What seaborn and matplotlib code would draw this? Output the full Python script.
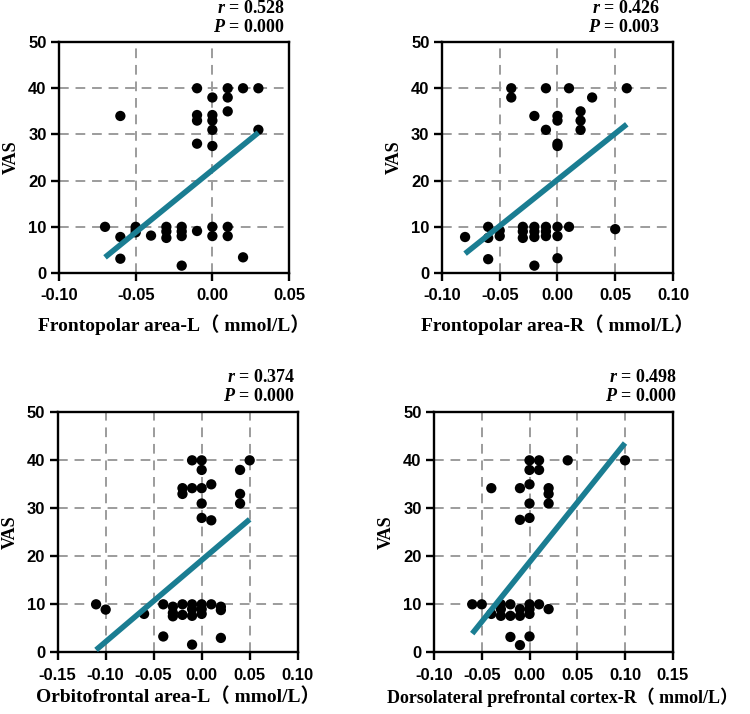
import numpy as np
import pandas as pd
import matplotlib
matplotlib.use("Agg")
import matplotlib.pyplot as plt
from matplotlib.ticker import FormatStrFormatter, MultipleLocator
import seaborn as sns

# Frontopolar area-L
fpl_x = [-0.07, -0.06, -0.06, -0.06, -0.05, -0.05, -0.05, -0.04, -0.03, -0.03, -0.03,
         -0.02, -0.02, -0.02, -0.02, -0.01, -0.01, -0.01, -0.01, -0.01,
         0, 0, 0, 0, 0, 0, 0, 0.01, 0.01, 0.01, 0.01, 0.01, 0.02, 0.02, 0.03, 0.03]
fpl_y = [10, 34, 7.8, 3.1, 10, 9.4, 8.8, 8.1, 10, 9, 7.6,
         10, 9, 8, 1.6, 40, 34.2, 33, 28, 9.1,
         38, 34.2, 33, 31, 27.5, 10, 8, 40, 38, 35, 10, 8, 40, 3.4, 40, 31]

# Frontopolar area-R
fpr_x = [-0.08, -0.06, -0.06, -0.06, -0.05, -0.05, -0.04, -0.04, -0.03, -0.03, -0.03,
         -0.02, -0.02, -0.02, -0.02, -0.02, -0.01, -0.01, -0.01, -0.01, -0.01,
         0, 0, 0, 0, 0, 0, 0, 0.01, 0.01, 0.02, 0.02, 0.02, 0.03, 0.05, 0.06]
fpr_y = [7.8, 10, 7.6, 3.0, 9.2, 8.0, 40, 38, 10, 9, 7.6,
         34, 10, 9, 7.8, 1.6, 40, 31, 10, 9, 8,
         34, 33, 28, 27.5, 10, 8, 3.2, 40, 10, 35, 33, 31, 38, 9.5, 40]

# Orbitofrontal area-L
ofl_x = [-0.11, -0.10, -0.06, -0.04, -0.04, -0.03, -0.03, -0.03,
         -0.02, -0.02, -0.02, -0.02, -0.01, -0.01, -0.01, -0.01, -0.01, -0.01,
         0, 0, 0, 0, 0, 0, 0, 0, 0.01, 0.01, 0.01, 0.02, 0.02, 0.02,
         0.04, 0.04, 0.04, 0.05]
ofl_y = [10, 8.9, 8, 10, 3.3, 9.5, 8.2, 7.5,
         34.2, 33, 10, 7.8, 40, 34.2, 10, 9, 7.6, 1.6,
         40, 38, 34.2, 31, 28, 10, 9, 8, 35, 27.5, 10, 9.5, 8.8, 3,
         38, 33, 31, 40]

# Dorsolateral prefrontal cortex-R
dlr_x = [-0.06, -0.05, -0.04, -0.04, -0.03, -0.03, -0.03, -0.02, -0.02, -0.02,
         -0.01, -0.01, -0.01, -0.01, -0.01,
         0, 0, 0, 0, 0, 0, 0, 0, 0, 0.01, 0.01, 0.01,
         0.02, 0.02, 0.02, 0.02, 0.04, 0.10]
dlr_y = [10, 10, 34.2, 8, 10, 9, 7.6, 10, 7.6, 3.2,
         34.2, 27.6, 9, 7.6, 1.5,
         40, 38, 35, 31, 28, 10, 9, 8, 3.3, 40, 38, 10,
         34.2, 33, 31, 9, 40, 40]

# fitted lines (end points)
fit_x = [[-0.07, 0.03], [-0.08, 0.06], [-0.11, 0.05], [-0.06, 0.10]]
fit_y = [[3.4, 30.4], [4.2, 32.2], [0.5, 27.7], [3.9, 43.6]]

r_vals = ["0.528", "0.426", "0.374", "0.498"]
p_vals = ["0.000", "0.003", "0.000", "0.000"]
xlabels = ["Frontopolar area-L（ mmol/L）", "Frontopolar area-R（ mmol/L）",
           "Orbitofrontal area-L（ mmol/L）", "Dorsolateral prefrontal cortex-R（ mmol/L）"]
xlims = [(-0.10, 0.05), (-0.10, 0.10), (-0.15, 0.10), (-0.10, 0.15)]

xs = [fpl_x, fpr_x, ofl_x, dlr_x]
ys = [fpl_y, fpr_y, ofl_y, dlr_y]

sns.set_style("ticks")
plt.rcParams.update({
    "axes.unicode_minus": False,
    "mathtext.fontset": "custom",
    "mathtext.it": "Liberation Serif:italic:bold",
    "mathtext.rm": "Liberation Serif:bold",
    "text.color": "black",
    "axes.labelcolor": "black",
    "axes.edgecolor": "black",
    "xtick.color": "black",
    "ytick.color": "black",
})

teal = "#1a7d92"
serif = ["Liberation Serif", "Noto Sans CJK SC"]

fig = plt.figure(figsize=(7.5, 7.14), dpi=100)
boxes = [[0.0787, 0.6176, 0.3067, 0.3235],
         [0.5893, 0.6176, 0.3080, 0.3235],
         [0.0769, 0.0864, 0.3200, 0.3361],
         [0.5787, 0.0864, 0.3183, 0.3361]]
text_x = [0.983, 0.944, 0.989, 1.017]
label_size = [14, 14, 14, 13]
label_xpos = [0.5, 0.5, 0.5, 0.54]
label_ypos = [-0.178, -0.178, -0.145, -0.145]

for i, box in enumerate(boxes):
    ax = fig.add_axes(box)
    df = pd.DataFrame({"x": xs[i], "VAS": ys[i]})
    ax.grid(True, color="#9c9c9c", linestyle=(0, (5, 3.5)), linewidth=1.4)
    ax.set_axisbelow(True)
    sns.scatterplot(data=df, x="x", y="VAS", color="black", s=55,
                    edgecolor="none", ax=ax, zorder=3, clip_on=False)
    sns.lineplot(x=fit_x[i], y=fit_y[i], color=teal, linewidth=4,
                 ax=ax, zorder=4, solid_capstyle="butt")

    ax.set_xlim(*xlims[i])
    ax.set_ylim(0, 50)
    ax.xaxis.set_major_locator(MultipleLocator(0.05))
    ax.yaxis.set_major_locator(MultipleLocator(10))
    ax.xaxis.set_major_formatter(FormatStrFormatter("%.2f"))
    for sp in ax.spines.values():
        sp.set_linewidth(1.7)
        sp.set_color("black")
    ax.tick_params(length=6, width=1.7, labelsize=12, color="black")
    ax.tick_params(axis="x", pad=5)
    ax.tick_params(axis="y", pad=3)
    for lab in ax.get_xticklabels() + ax.get_yticklabels():
        lab.set_fontfamily("Liberation Sans")
        lab.set_fontweight("bold")

    ax.set_xlabel(xlabels[i], family=serif, fontweight="bold",
                  fontsize=label_size[i])
    ax.xaxis.set_label_coords(label_xpos[i], label_ypos[i])
    ax.set_ylabel("VAS", family=serif, fontweight="bold", fontsize=13, labelpad=6)

    ax.text(text_x[i], 1.147, r"$r$ = " + r_vals[i], transform=ax.transAxes,
            ha="right", va="center", fontsize=13, family="Liberation Serif",
            fontweight="bold")
    ax.text(text_x[i], 1.065, r"$P$ = " + p_vals[i], transform=ax.transAxes,
            ha="right", va="center", fontsize=13, family="Liberation Serif",
            fontweight="bold")

plt.savefig("out.png", dpi=100)
